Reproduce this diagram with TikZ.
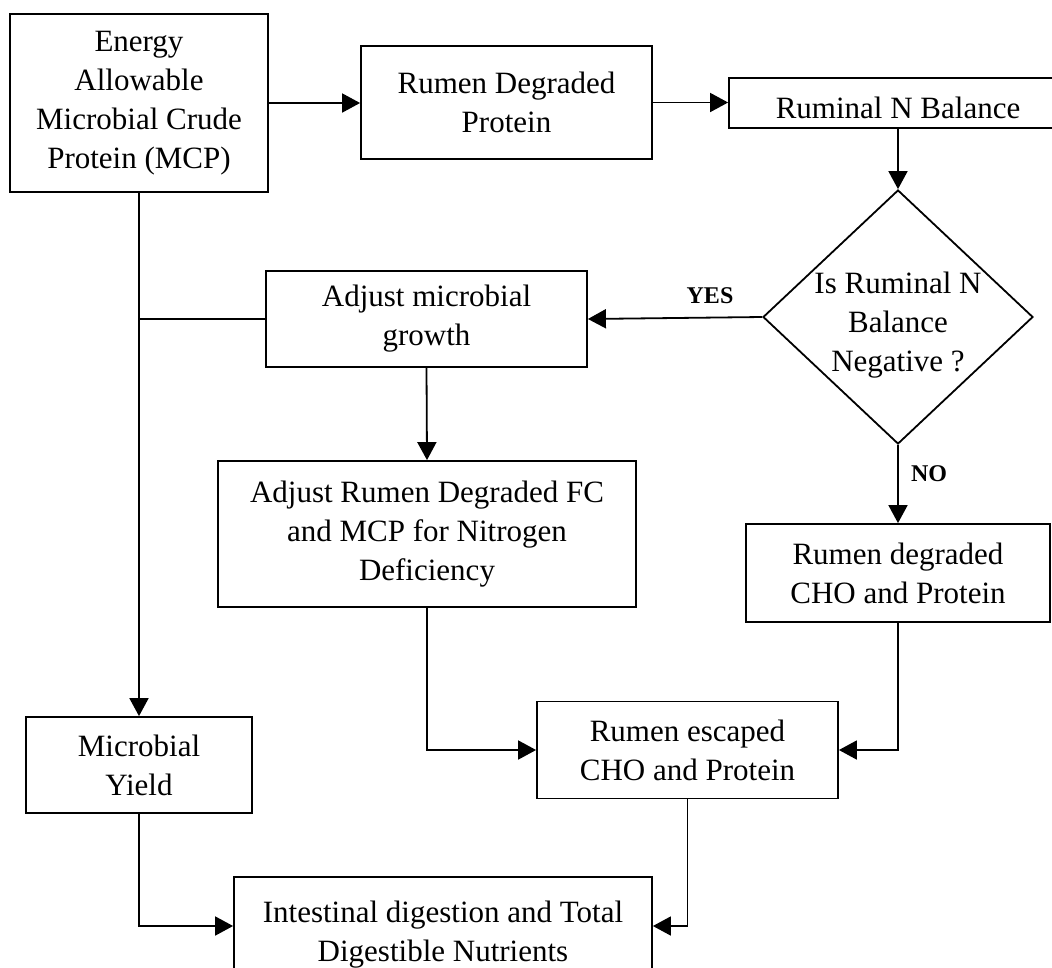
\documentclass[tikz,border=0pt]{standalone}
\usepackage{fontspec}
\setmainfont{Liberation Serif}
\usetikzlibrary{arrows.meta,shapes.geometric}
\newcommand{\boxfont}{\fontsize{31}{39}\selectfont}
\newcommand{\lblfont}{\fontsize{24}{28}\selectfont\bfseries}
\tikzset{
  flowbox/.style={draw, line width=1.8pt, align=center, inner sep=0pt, font=\boxfont},
  conn/.style={line width=1.8pt},
  arr/.style={conn, -{Triangle[length=18pt,width=19pt]}},
  lbl/.style={font=\lblfont, inner sep=0pt}
}
\begin{document}
\begin{tikzpicture}[x=1pt,y=-1pt]
\useasboundingbox (0,0) rectangle (1052,967);
\clip (0,0) rectangle (1052,967);
\fill[white] (0,0) rectangle (1052,967);

\node[flowbox, minimum width=258pt, minimum height=178pt] (energy) at (139,103)
  {Energy\\Allowable\\Microbial Crude\\Protein (MCP)};
\node[flowbox, minimum width=291pt, minimum height=113pt] (rdp) at (506.5,102.5)
  {Rumen Degraded\\Protein};
\node[flowbox, minimum width=338pt, minimum height=50pt] (rnb) at (898,103) {};
\node[font=\boxfont, inner sep=0pt] (rnbtext) at (898,108) {Ruminal N Balance};
\node[draw, diamond, line width=1.8pt, minimum width=270pt, minimum height=254pt, inner sep=0pt] (dec) at (898,317) {};
\node[font=\boxfont, align=center, inner sep=0pt] (dectext) at (898,325)
  {Is Ruminal N\\Balance\\Negative ?};
\node[flowbox, minimum width=321pt, minimum height=96pt] (adj) at (426.5,319)
  {Adjust microbial\\growth};
\node[flowbox, minimum width=418pt, minimum height=146pt] (adjfc) at (427,534)
  {Adjust Rumen Degraded FC\\and MCP for Nitrogen\\Deficiency};
\node[flowbox, minimum width=304pt, minimum height=98pt] (cho) at (898,573)
  {Rumen degraded\\CHO and Protein};
\node[flowbox, minimum width=301pt, minimum height=97pt] (esc) at (687.5,750)
  {Rumen escaped\\CHO and Protein};
\node[flowbox, minimum width=226pt, minimum height=96pt] (my) at (139,765)
  {Microbial\\Yield};
\node[flowbox, minimum width=418pt, minimum height=116pt] (intd) at (443,935)
  {Intestinal digestion and Total\\Digestible Nutrients};

\draw[arr] (energy.east) -- (energy.east -| rdp.west);
\draw[arr] (rdp.east) -- (rdp.east -| rnb.west);
\draw[arr] (rnb.south) -- (dec.north);
\draw[arr] (dec.west) -- (adj.east);
\node[lbl] (yes) at (710,296) {YES};
\draw[arr] (dec.south) -- (cho.north);
\node[lbl] (no) at (929,474) {NO};
\draw[arr] (energy.south) -- (my.north);
\draw[conn] (adj.west) -- (adj.west -| energy.south);
\draw[arr] (adj.south) -- (adjfc.north);
\draw[arr] (adjfc.south) -- (adjfc.south |- esc.west) -- (esc.west);
\draw[arr] (cho.south) -- (cho.south |- esc.east) -- (esc.east);
\coordinate (inL) at ([yshift=9pt]intd.west);
\coordinate (inR) at ([yshift=9pt]intd.east);
\draw[arr] (my.south) -- (my.south |- inL) -- (inL);
\draw[arr] (esc.south) -- (esc.south |- inR) -- (inR);
\end{tikzpicture}
\end{document}
